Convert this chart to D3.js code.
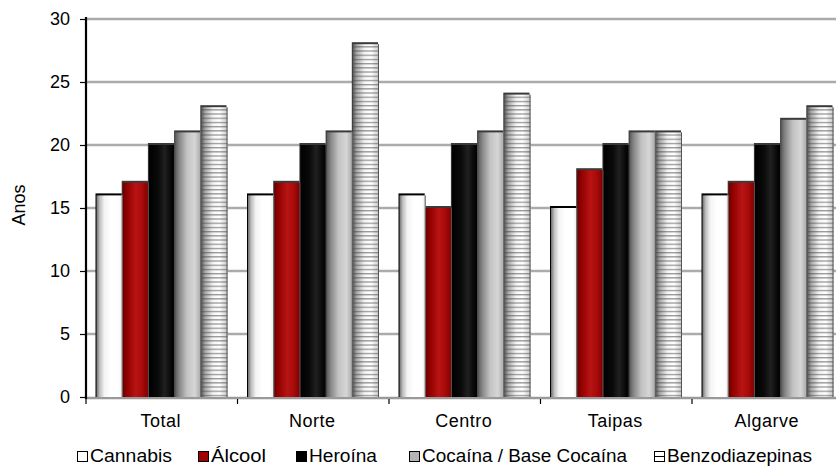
<!DOCTYPE html>
<html>
<head>
<meta charset="utf-8">
<script src="https://cdn.jsdelivr.net/npm/d3@7"></script>
<style>
  html, body { margin: 0; padding: 0; background: #fff; }
  svg { display: block; font-family: "Liberation Sans", Arial, sans-serif; }
</style>
</head>
<body>
<svg id="chart" width="836" height="466"></svg>
<script>
const categories = ["Total", "Norte", "Centro", "Taipas", "Algarve"];
const seriesNames = ["Cannabis", "Álcool", "Heroína", "Cocaína / Base Cocaína", "Benzodiazepinas"];
const cannabis = [16, 16, 16, 15, 16];
const alcool = [17, 17, 15, 18, 17];
const heroina = [20, 20, 20, 20, 20];
const cocaina = [21, 21, 21, 21, 22];
const benzodiazepinas = [23, 28, 24, 21, 23];
const yTicks = [0, 5, 10, 15, 20, 25, 30];
const yLabel = "Anos";

const seriesValues = [cannabis, alcool, heroina, cocaina, benzodiazepinas];
const seriesKeys = ["can", "alc", "her", "coc", "ben"];

const svg = d3.select("#chart");
const defs = svg.append("defs");

const pLeft = 86, pRight = 843.5, pTop = 19, pBottom = 397;
const x = d3.scaleBand().domain(categories).range([pLeft, pRight]).paddingInner(0).paddingOuter(0);
const xInner = d3.scaleBand().domain(seriesKeys).range([10.5, x.bandwidth() - 10]).padding(0);
const y = d3.scaleLinear().domain([0, 30]).range([pBottom, pTop]);

function grad(id, stops) {
  const g = defs.append("linearGradient").attr("id", id).attr("x1", 0).attr("x2", 1).attr("y1", 0).attr("y2", 0);
  stops.forEach(s => g.append("stop").attr("offset", s[0]).attr("stop-color", s[1]));
}
grad("g-can", [[0, "#6e6e6e"], [0.12, "#bdbdbd"], [0.3, "#f4f4f4"], [0.55, "#ffffff"], [0.85, "#ffffff"], [1, "#e6e6e6"]]);
grad("g-alc", [[0, "#6a0000"], [0.15, "#900000"], [0.5, "#b81414"], [0.75, "#a80a0a"], [1, "#7a0000"]]);
grad("g-her", [[0, "#000"], [0.35, "#0a0a0a"], [0.6, "#202020"], [0.85, "#080808"], [1, "#000"]]);
grad("g-coc", [[0, "#5a5a5a"], [0.15, "#858585"], [0.45, "#c2c2c2"], [0.75, "#d6d6d6"], [1, "#a4a4a4"]]);
grad("g-ben", [[0, "#5a5a5a"], [0.15, "#a8a8a8"], [0.45, "#f4f4f4"], [0.7, "#ffffff"], [1, "#c8c8c8"]]);

const pat = defs.append("pattern").attr("id", "stripes").attr("patternUnits", "userSpaceOnUse")
  .attr("width", 8).attr("height", 4.2);
pat.append("rect").attr("x", 0).attr("y", 0).attr("width", 8).attr("height", 1.3).attr("fill", "rgba(70,70,70,0.55)");

// gridlines
svg.append("g").selectAll("line").data(yTicks.filter(t => t > 0)).join("line")
  .attr("x1", pLeft).attr("x2", 836)
  .attr("y1", d => y(d)).attr("y2", d => y(d))
  .attr("stroke", "#ababab").attr("stroke-width", 2.6);

// baseline
svg.append("line").attr("x1", pLeft).attr("x2", 836).attr("y1", y(0) + 1).attr("y2", y(0) + 1)
  .attr("stroke", "#999").attr("stroke-width", 2.6);

// bars
const rows = [];
categories.forEach((c, i) => seriesKeys.forEach((k, j) => rows.push({ c, k, v: seriesValues[j][i] })));

const bars = svg.append("g");
bars.selectAll("rect.shadow").data(rows).join("rect").attr("class", "shadow")
  .attr("x", d => x(d.c) + xInner(d.k) - 1)
  .attr("y", d => y(d.v) - 2)
  .attr("width", xInner.bandwidth())
  .attr("height", d => y(0) - y(d.v) + 2)
  .attr("fill", d => d.k === "can" ? "#000" : "#3a3a3a");
bars.selectAll("rect.bar").data(rows).join("rect").attr("class", "bar")
  .attr("x", d => x(d.c) + xInner(d.k))
  .attr("y", d => y(d.v))
  .attr("width", xInner.bandwidth())
  .attr("height", d => y(0) - y(d.v))
  .attr("fill", d => `url(#g-${d.k})`);
bars.selectAll("rect.str").data(rows.filter(d => d.k === "ben")).join("rect").attr("class", "str")
  .attr("x", d => x(d.c) + xInner(d.k))
  .attr("y", d => y(d.v))
  .attr("width", xInner.bandwidth())
  .attr("height", d => y(0) - y(d.v))
  .attr("fill", "url(#stripes)");
bars.selectAll("line.edge").data(rows).join("line").attr("class", "edge")
  .attr("x1", d => x(d.c) + xInner(d.k) + xInner.bandwidth() - 0.5)
  .attr("x2", d => x(d.c) + xInner(d.k) + xInner.bandwidth() - 0.5)
  .attr("y1", d => y(d.v)).attr("y2", y(0))
  .attr("stroke", "#555").attr("stroke-width", 1);

// y axis
const yAxis = d3.axisLeft(y).tickValues(yTicks).tickSize(6).tickPadding(10);
const ya = svg.append("g").attr("transform", `translate(${pLeft},0)`).call(yAxis);
ya.select(".domain").attr("stroke", "#000").attr("stroke-width", 2.2).attr("d", `M0,${pTop - 2}V${y(0) + 2}`);
ya.selectAll(".tick line").attr("stroke", "#000").attr("stroke-width", 1.2);
ya.selectAll(".tick text").attr("font-size", 18).attr("fill", "#000")
  .attr("font-family", "Liberation Sans, Arial, sans-serif");

// x axis
const xa = svg.append("g").attr("transform", `translate(0,${y(0) + 2})`);
xa.selectAll("line").data(categories).join("line")
  .attr("x1", d => x(d)).attr("x2", d => x(d)).attr("y1", 0).attr("y2", 5)
  .attr("stroke", "#000").attr("stroke-width", 1.2);
xa.selectAll("text").data(categories).join("text")
  .attr("x", d => x(d) + x.bandwidth() / 2 - 1)
  .attr("y", 28)
  .attr("text-anchor", "middle")
  .attr("font-size", 18).attr("letter-spacing", 0.5).attr("fill", "#000")
  .text(d => d);

// y label
svg.append("text").attr("transform", `translate(25,205) rotate(-90)`)
  .attr("text-anchor", "middle").attr("font-size", 18).attr("fill", "#000").text(yLabel);

// legend
const legendX = [77, 198, 296, 409, 654];
const legendW = [82, 55, 68, 205, 145];
const lg = svg.append("g");
const items = lg.selectAll("g").data(seriesKeys).join("g")
  .attr("transform", (d, i) => `translate(${legendX[i]},451)`);
const legendFill = { can: "#fff", alc: "#a00000", her: "#000", coc: "#b4b4b4", ben: "#fff" };
items.append("rect").attr("x", 0.5).attr("y", 0.5).attr("width", 10).attr("height", 10)
  .attr("fill", d => legendFill[d]).attr("stroke", "#000").attr("stroke-width", 1);
items.filter(d => d === "ben").append("line").attr("x1", 0.5).attr("x2", 10.5).attr("y1", 5.5).attr("y2", 5.5)
  .attr("stroke", "#000").attr("stroke-width", 1);
items.append("text").attr("x", 13).attr("y", 11)
  .attr("font-size", 17.5).attr("fill", "#000")
  .attr("textLength", (d, i) => legendW[i]).attr("lengthAdjust", "spacingAndGlyphs")
  .text((d, i) => seriesNames[i]);
</script>
</body>
</html>
